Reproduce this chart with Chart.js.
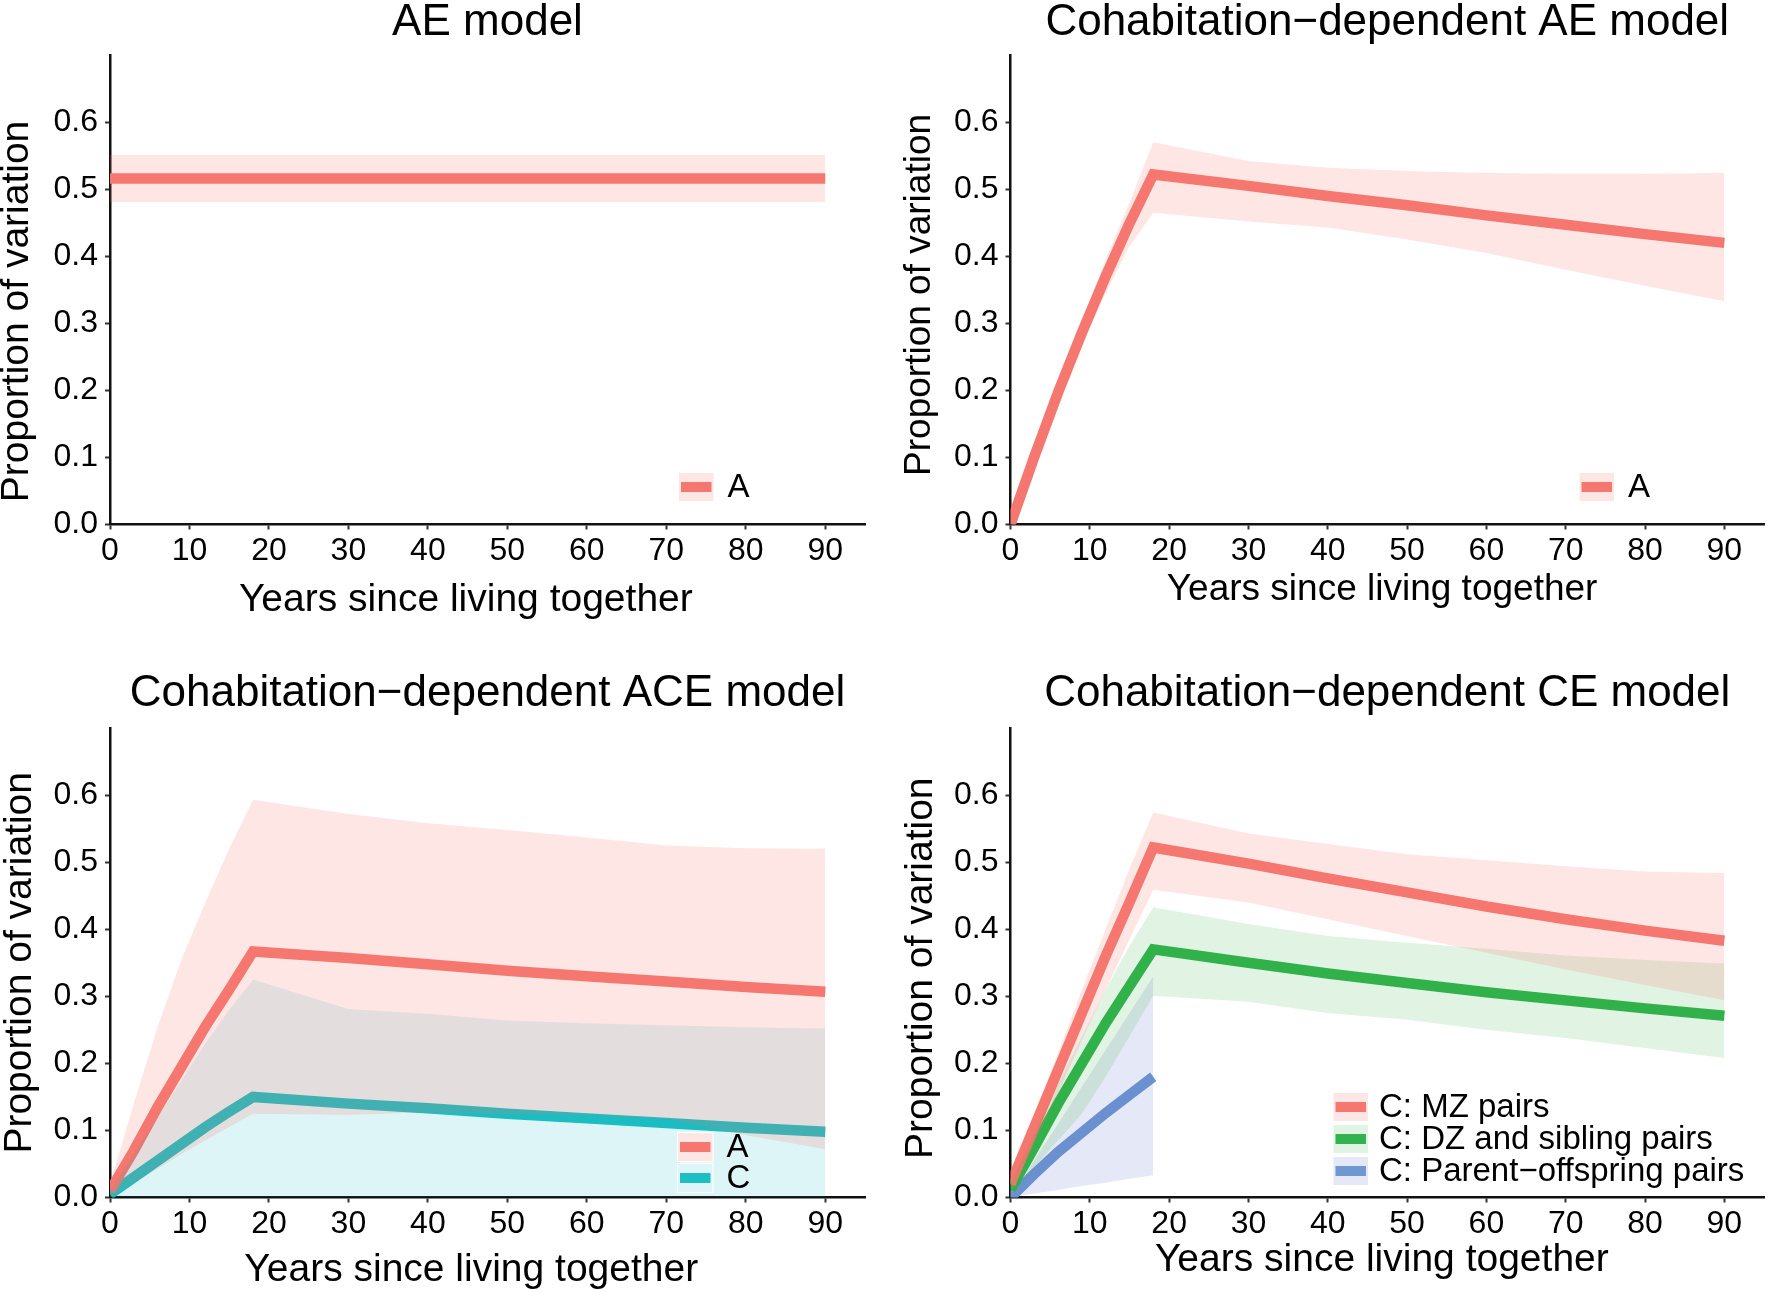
<!DOCTYPE html>
<html>
<head>
<meta charset="utf-8">
<script src="https://cdn.jsdelivr.net/npm/chart.js@4.4.1/dist/chart.umd.min.js"></script>
<style>
  html, body { margin: 0; padding: 0; background: #fff; }
  body { width: 1770px; height: 1292px; position: relative; overflow: hidden; }
  .panel { position: absolute; width: 885px; height: 646px; }
  .panel canvas { display: block; }
</style>
</head>
<body>
<div class="panel" style="left:0;top:0"><canvas id="ae-chart" width="885" height="646"></canvas></div>
<div class="panel" style="left:885px;top:0"><canvas id="cd-ae-chart" width="885" height="646"></canvas></div>
<div class="panel" style="left:0;top:646px"><canvas id="cd-ace-chart" width="885" height="646"></canvas></div>
<div class="panel" style="left:885px;top:646px"><canvas id="cd-ce-chart" width="885" height="646"></canvas></div>
<script>
// axis ticks
const xTicks = [0, 10, 20, 30, 40, 50, 60, 70, 80, 90];
const yTicks = [0, 0.1, 0.2, 0.3, 0.4, 0.5, 0.6];

// years since living together (x values of the estimated curves)
const aeYears = [0, 90];
const years = [0, 3, 6, 9, 12, 15, 18, 30, 40, 50, 60, 70, 80, 90];
const poYears = [0, 3, 6, 9, 12, 15, 18];

// AE model
const aeA = [0.516, 0.516];
const aeALow = [0.481, 0.481];
const aeAHigh = [0.551, 0.551];

// Cohabitation-dependent AE model
const cdAeA = [0, 0.101, 0.197, 0.286, 0.37, 0.449, 0.522, 0.505, 0.49, 0.476, 0.461, 0.447, 0.433, 0.42];
const cdAeALow = [0, 0.092, 0.183, 0.268, 0.345, 0.415, 0.465, 0.452, 0.443, 0.425, 0.405, 0.38, 0.356, 0.333];
const cdAeAHigh = [0.005, 0.11, 0.21, 0.305, 0.395, 0.48, 0.57, 0.542, 0.532, 0.527, 0.524, 0.523, 0.523, 0.524];

// Cohabitation-dependent ACE model
const cdAceA = [0.01, 0.07, 0.135, 0.195, 0.255, 0.31, 0.367, 0.357, 0.348, 0.338, 0.33, 0.322, 0.314, 0.307];
const cdAceALow = [0, 0.022, 0.043, 0.065, 0.085, 0.105, 0.125, 0.123, 0.127, 0.124, 0.123, 0.117, 0.093, 0.072];
const cdAceAHigh = [0.02, 0.14, 0.255, 0.355, 0.44, 0.52, 0.593, 0.572, 0.558, 0.548, 0.537, 0.525, 0.521, 0.52];
const cdAceC = [0.005, 0.03, 0.055, 0.08, 0.105, 0.128, 0.15, 0.14, 0.133, 0.125, 0.118, 0.111, 0.104, 0.098];
const cdAceCLow = [0, 0, 0, 0, 0, 0, 0, 0, 0, 0, 0, 0, 0, 0];
const cdAceCHigh = [0.01, 0.065, 0.12, 0.175, 0.23, 0.28, 0.325, 0.281, 0.274, 0.264, 0.26, 0.257, 0.254, 0.252];

// Cohabitation-dependent CE model
const cdCeMz = [0.02, 0.105, 0.19, 0.275, 0.36, 0.44, 0.522, 0.498, 0.476, 0.455, 0.434, 0.415, 0.398, 0.383];
const cdCeMzLow = [0.005, 0.08, 0.155, 0.235, 0.31, 0.385, 0.459, 0.44, 0.415, 0.39, 0.365, 0.34, 0.317, 0.294];
const cdCeMzHigh = [0.03, 0.125, 0.215, 0.31, 0.4, 0.49, 0.574, 0.543, 0.527, 0.512, 0.503, 0.494, 0.486, 0.484];
const cdCeDz = [0.012, 0.075, 0.14, 0.2, 0.26, 0.315, 0.37, 0.35, 0.334, 0.32, 0.306, 0.294, 0.282, 0.271];
const cdCeDzLow = [0.005, 0.045, 0.085, 0.125, 0.18, 0.24, 0.301, 0.292, 0.275, 0.265, 0.25, 0.238, 0.223, 0.208];
const cdCeDzHigh = [0.02, 0.095, 0.17, 0.24, 0.31, 0.375, 0.433, 0.408, 0.39, 0.38, 0.371, 0.361, 0.354, 0.349];
const cdCePo = [0, 0.035, 0.068, 0.097, 0.126, 0.153, 0.18];
const cdCePoLow = [0, 0.006, 0.011, 0.017, 0.022, 0.028, 0.033];
const cdCePoHigh = [0, 0.055, 0.11, 0.165, 0.22, 0.275, 0.33];

const fontFamily = '"Liberation Sans", Arial, Helvetica, sans-serif';
Chart.defaults.font.family = fontFamily;
Chart.defaults.color = '#000';

const colors = {
	red: '#F4786F',
	redFill: 'rgba(248, 118, 109, 0.18)',
	cyan: '#1DBFC3',
	cyanFill: 'rgba(0, 180, 190, 0.13)',
	green: '#33B34F',
	greenFill: 'rgba(40, 170, 50, 0.14)',
	blue: '#7097D0',
	blueFill: 'rgba(80, 110, 200, 0.15)',
};

function points(xs, ys) {
	return xs.map((x, i) => ({ x: x, y: ys[i] }));
}

function ribbon(xs, lows, highs, fill) {
	return [
		{ data: points(xs, highs), borderWidth: 0, pointRadius: 0, fill: '+1', backgroundColor: fill, order: 0 },
		{ data: points(xs, lows), borderWidth: 0, pointRadius: 0, fill: false, order: 0 },
	];
}

function curve(xs, ys, color) {
	return {
		data: points(xs, ys),
		borderColor: color,
		borderWidth: 10.5,
		borderCapStyle: 'butt',
		borderJoinStyle: 'miter',
		pointRadius: 0,
		fill: false,
		order: 1,
	};
}

// legend drawn inside the panel, ggplot style
const insetLegend = {
	id: 'insetLegend',
	afterDatasetsDraw(chart, args, opts) {
		if (!opts.items) return;
		const { ctx, chartArea } = chart;
		const n = opts.items.length;
		ctx.save();
		ctx.font = '33px ' + fontFamily;
		ctx.textBaseline = 'middle';
		ctx.textAlign = 'left';
		opts.items.forEach((item, i) => {
			const x = chartArea.left + opts.left;
			const y = chartArea.bottom - opts.bottom - (n - i) * opts.pitch;
			ctx.fillStyle = '#fff';
			ctx.fillRect(x, y, opts.keyWidth, opts.keyHeight);
			ctx.fillStyle = item.fill;
			ctx.fillRect(x + 1, y + 1, opts.keyWidth - 2, opts.keyHeight - 2);
			ctx.fillStyle = item.color;
			ctx.fillRect(x + 3, y + opts.keyHeight / 2 - 5, opts.keyWidth - 6, 10);
			ctx.fillStyle = '#000';
			ctx.fillText(item.label, x + opts.keyWidth + opts.gap, y + opts.keyHeight / 2 + 1);
		});
		ctx.restore();
	}
};

// trailing blanks nudge a centred axis title, as in the original layout
function nudged(text, blanks) {
	return text + ' '.repeat(blanks);
}

function makeChart(id, title, datasets, legend, frame) {
	const tickFont = { size: 32, family: fontFamily };
	const titleFont = { size: frame.axisTitleSize || 39, family: fontFamily, lineHeight: 0.8 };
	const grid = { display: true, drawOnChartArea: false, drawTicks: true, tickLength: 5, tickWidth: 2, tickColor: '#333' };
	const border = { display: true, color: '#111', width: 2.5 };

	return new Chart(document.getElementById(id), {
		type: 'line',
		data: { datasets: datasets },
		plugins: [insetLegend],
		options: {
			responsive: false,
			animation: false,
			clip: 0,
			layout: { padding: { left: 0, right: frame.padRight, top: 0, bottom: 0 } },
			plugins: {
				legend: { display: false },
				tooltip: { enabled: false },
				title: {
					display: true,
					text: title,
					fullSize: false,
					color: '#000',
					font: { size: 44, family: fontFamily, weight: 'normal', lineHeight: 0.9 },
					padding: { top: frame.titleTop, bottom: frame.titleBottom },
				},
				insetLegend: legend,
			},
			scales: {
				x: {
					type: 'linear',
					min: 0,
					max: 95,
					z: 1,
					afterBuildTicks: (scale) => { scale.ticks = xTicks.map((v) => ({ value: v })); },
					afterFit: (scale) => { scale.height = frame.axisHeight; },
					ticks: { font: tickFont, color: '#000', padding: 2, maxRotation: 0, autoSkip: false },
					grid: grid,
					border: border,
					title: { display: true, text: nudged('Years since living together', frame.xNudge), color: '#000', font: titleFont, padding: { top: 0, bottom: frame.xTitlePad } },
				},
				y: {
					type: 'linear',
					min: 0,
					max: 0.7,
					z: 1,
					afterBuildTicks: (scale) => { scale.ticks = yTicks.map((v) => ({ value: v })); },
					afterFit: (scale) => { scale.width = frame.axisWidth; },
					ticks: { font: tickFont, color: '#000', padding: 7, callback: (v) => v.toFixed(1) },
					grid: grid,
					border: border,
					title: { display: true, text: nudged('Proportion of variation', frame.yNudge), color: '#000', font: titleFont, padding: { top: frame.yTitlePad, bottom: 0 } },
				},
			},
		},
	});
}

const legendBase = { keyWidth: 36.5, keyHeight: 30, pitch: 31, gap: 13 };

makeChart('ae-chart', 'AE model',
	[
		curve(aeYears, aeA, colors.red),
		...ribbon(aeYears, aeALow, aeAHigh, colors.redFill),
	],
	{ ...legendBase, left: 568, bottom: 21.5, items: [{ label: 'A', color: colors.red, fill: colors.redFill }] },
	{ axisWidth: 110, padRight: 20, titleTop: 3.5, titleBottom: 12, axisHeight: 121.5, xTitlePad: 30, yTitlePad: 1.5, xNudge: 4, yNudge: 4 }
);

makeChart('cd-ae-chart', 'Cohabitation\u2212dependent AE model',
	[
		curve(years, cdAeA, colors.red),
		...ribbon(years, cdAeALow, cdAeAHigh, colors.redFill),
	],
	{ ...legendBase, left: 568, bottom: 21.5, items: [{ label: 'A', color: colors.red, fill: colors.redFill }] },
	{ axisWidth: 125.5, padRight: 6, titleTop: 3.5, titleBottom: 12, axisHeight: 121.5, axisTitleSize: 37, xTitlePad: 41, yTitlePad: 20, xNudge: 1, yNudge: 1 }
);

makeChart('cd-ace-chart', 'Cohabitation\u2212dependent ACE model',
	[
		curve(years, cdAceA, colors.red),
		curve(years, cdAceC, colors.cyan),
		...ribbon(years, cdAceALow, cdAceAHigh, colors.redFill),
		...ribbon(years, cdAceCLow, cdAceCHigh, colors.cyanFill),
	],
	{ ...legendBase, left: 567, bottom: 3.5, items: [
		{ label: 'A', color: colors.red, fill: colors.redFill },
		{ label: 'C', color: colors.cyan, fill: colors.cyanFill },
	] },
	{ axisWidth: 110, padRight: 20, titleTop: 28.5, titleBottom: 14, axisHeight: 94.5, xTitlePad: 6, yTitlePad: 4.5, xNudge: 3, yNudge: 0 }
);

makeChart('cd-ce-chart', 'Cohabitation\u2212dependent CE model',
	[
		curve(years, cdCeMz, colors.red),
		curve(years, cdCeDz, colors.green),
		curve(poYears, cdCePo, colors.blue),
		...ribbon(years, cdCeMzLow, cdCeMzHigh, colors.redFill),
		...ribbon(years, cdCeDzLow, cdCeDzHigh, colors.greenFill),
		...ribbon(poYears, cdCePoLow, cdCePoHigh, colors.blueFill),
	],
	{ ...legendBase, left: 322, bottom: 9.5, pitch: 32, keyHeight: 30, gap: 10, items: [
		{ label: 'C: MZ pairs', color: colors.red, fill: colors.redFill },
		{ label: 'C: DZ and sibling pairs', color: colors.green, fill: colors.greenFill },
		{ label: 'C: Parent\u2212offspring pairs', color: colors.blue, fill: colors.blueFill },
	] },
	{ axisWidth: 125.5, padRight: 6, titleTop: 28.5, titleBottom: 14, axisHeight: 94.5, xTitlePad: 16.5, yTitlePad: 20.5, xNudge: 1, yNudge: 1 }
);
</script>
</body>
</html>
